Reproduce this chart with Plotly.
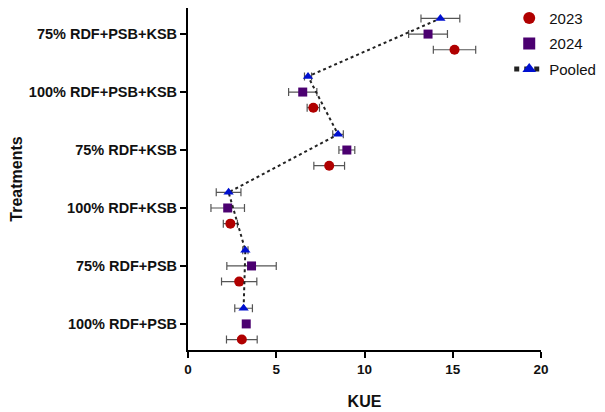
import plotly.graph_objects as go

treatments = ["100% RDF+PSB", "75% RDF+PSB", "100% RDF+KSB",
              "75% RDF+KSB", "100% RDF+PSB+KSB", "75% RDF+PSB+KSB"]

kue_2023 = [3.05, 2.9, 2.4, 8.0, 7.1, 15.1]
err_2023 = [0.87, 1.0, 0.4, 0.87, 0.35, 1.2]

kue_2024 = [3.3, 3.6, 2.25, 9.0, 6.5, 13.6]
err_2024 = [0.0, 1.4, 0.95, 0.45, 0.8, 1.1]

kue_pooled = [3.15, 3.25, 2.3, 8.5, 6.8, 14.3]
err_pooled = [0.5, 0.15, 0.7, 0.3, 0.2, 1.1]

x_ticks = [0, 5, 10, 15, 20]

pos = list(range(len(treatments)))
off = 0.27

FONT = "Liberation Sans, Arial, sans-serif"
ebar = lambda e: dict(type="data", array=e, color="#555555", thickness=1.2, width=4)

fig = go.Figure()
fig.add_trace(go.Scatter(
    x=kue_2023, y=[p - off for p in pos], mode="markers", name="2023", legendgroup="a",
    marker=dict(symbol="circle", size=10, color="#B00000"),
    error_x=ebar(err_2023)))
fig.add_trace(go.Scatter(
    x=kue_2024, y=pos, mode="markers", name="2024", legendgroup="b",
    marker=dict(symbol="square", size=9, color="#4B0070"),
    error_x=ebar(err_2024)))
fig.add_trace(go.Scatter(
    x=kue_pooled, y=[p + off for p in pos], mode="lines+markers", name="Pooled",
    legendgroup="c",
    marker=dict(symbol="triangle-up", size=9, color="#0010D0"),
    line=dict(color="#222222", width=2, dash="dot"),
    error_x=ebar(err_pooled)))

fig.update_layout(
    width=597, height=404,
    margin=dict(l=180, r=64, t=0, b=62, autoexpand=False),
    plot_bgcolor="white", paper_bgcolor="white",
    font=dict(family=FONT, color="#111111"),
    legend=dict(x=0.91, y=1.018, xanchor="left", yanchor="top",
                font=dict(size=15, family=FONT), bgcolor="rgba(0,0,0,0)",
                itemsizing="constant", tracegroupgap=3, itemwidth=30),
    showlegend=True,
)
fig.update_xaxes(
    range=[0, 20], tickvals=x_ticks, ticktext=[f"<b>{v}</b>" for v in x_ticks],
    showgrid=False, zeroline=False, showline=True, linecolor="black", linewidth=2,
    ticks="outside", ticklen=6, tickwidth=2, tickcolor="black",
    tickfont=dict(size=13.5, family=FONT), automargin=False, ticklabelstandoff=0,
    title=dict(text="<b>KUE</b>", font=dict(size=16, family=FONT), standoff=20),
)
fig.update_yaxes(
    range=[-0.45, 5.45], tickvals=pos, ticktext=[f"<b>{t}</b>" for t in treatments],
    showgrid=False, zeroline=False, showline=True, linecolor="black", linewidth=2,
    ticks="outside", ticklen=6, tickwidth=2, tickcolor="black",
    tickfont=dict(size=14.5, family=FONT), automargin=False,
    title=dict(text="<b>Treatments</b>", font=dict(size=16, family=FONT), standoff=6),
)

fig.write_html("out.html")
